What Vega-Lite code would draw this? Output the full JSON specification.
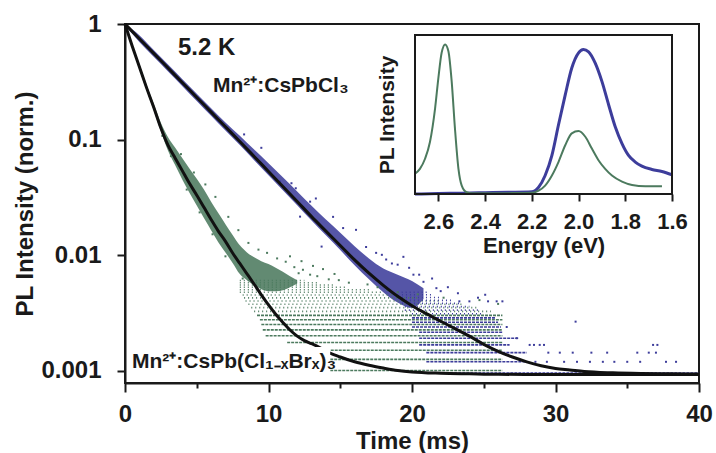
{
  "$schema": "https://vega.github.io/schema/vega-lite/v6.json",
  "width": 574,
  "height": 359,
  "autosize": {"type": "none"},
  "padding": {"left": 125, "top": 24, "right": 17, "bottom": 70},
  "background": "white",
  "config": {
    "view": {"stroke": "#1a1a1a", "strokeWidth": 2},
    "font": "Liberation Sans",
    "axis": {
      "labelFont": "Liberation Sans", "titleFont": "Liberation Sans",
      "labelFontWeight": "bold", "titleFontWeight": "bold",
      "labelColor": "#1a1a1a", "titleColor": "#1a1a1a",
      "domainColor": "#1a1a1a", "tickColor": "#1a1a1a",
      "domainWidth": 2, "tickWidth": 2, "grid": false,
      "labelFontSize": 24, "titleFontSize": 24
    }
  },
  "datasets": {
    "band": [
      {"s": "blue", "t": 0, "lo": 0.97, "hi": 1.0},
      {"s": "blue", "t": 1, "lo": 0.70, "hi": 0.80},
      {"s": "blue", "t": 2, "lo": 0.52, "hi": 0.597},
      {"s": "blue", "t": 3, "lo": 0.388, "hi": 0.446},
      {"s": "blue", "t": 4, "lo": 0.29, "hi": 0.333},
      {"s": "blue", "t": 5, "lo": 0.216, "hi": 0.25},
      {"s": "blue", "t": 6, "lo": 0.161, "hi": 0.187},
      {"s": "blue", "t": 7, "lo": 0.12, "hi": 0.141},
      {"s": "blue", "t": 8, "lo": 0.09, "hi": 0.108},
      {"s": "blue", "t": 9, "lo": 0.0665, "hi": 0.082},
      {"s": "blue", "t": 10, "lo": 0.0493, "hi": 0.0625},
      {"s": "blue", "t": 11, "lo": 0.0366, "hi": 0.0473},
      {"s": "blue", "t": 12, "lo": 0.0271, "hi": 0.0357},
      {"s": "blue", "t": 13, "lo": 0.02, "hi": 0.0268},
      {"s": "blue", "t": 14, "lo": 0.0149, "hi": 0.0204},
      {"s": "blue", "t": 15, "lo": 0.0111, "hi": 0.0157},
      {"s": "blue", "t": 16, "lo": 0.0082, "hi": 0.012},
      {"s": "blue", "t": 17, "lo": 0.0062, "hi": 0.0094},
      {"s": "blue", "t": 18, "lo": 0.0048, "hi": 0.0077},
      {"s": "blue", "t": 19, "lo": 0.0039, "hi": 0.0068},
      {"s": "blue", "t": 20, "lo": 0.0035, "hi": 0.006},
      {"s": "blue", "t": 20.8, "lo": 0.0042, "hi": 0.0052},
      {"s": "green", "t": 0, "lo": 0.96, "hi": 1.0},
      {"s": "green", "t": 0.5, "lo": 0.62, "hi": 0.67},
      {"s": "green", "t": 1, "lo": 0.405, "hi": 0.45},
      {"s": "green", "t": 1.5, "lo": 0.268, "hi": 0.3},
      {"s": "green", "t": 2, "lo": 0.18, "hi": 0.205},
      {"s": "green", "t": 2.5, "lo": 0.118, "hi": 0.14},
      {"s": "green", "t": 3, "lo": 0.08, "hi": 0.105},
      {"s": "green", "t": 3.5, "lo": 0.06, "hi": 0.085},
      {"s": "green", "t": 4, "lo": 0.045, "hi": 0.069},
      {"s": "green", "t": 4.5, "lo": 0.0345, "hi": 0.056},
      {"s": "green", "t": 5, "lo": 0.027, "hi": 0.046},
      {"s": "green", "t": 5.5, "lo": 0.021, "hi": 0.037},
      {"s": "green", "t": 6, "lo": 0.0165, "hi": 0.029},
      {"s": "green", "t": 6.5, "lo": 0.013, "hi": 0.0232},
      {"s": "green", "t": 7, "lo": 0.0106, "hi": 0.0186},
      {"s": "green", "t": 7.5, "lo": 0.0086, "hi": 0.015},
      {"s": "green", "t": 8, "lo": 0.0069, "hi": 0.0122},
      {"s": "green", "t": 8.5, "lo": 0.0061, "hi": 0.0106},
      {"s": "green", "t": 9, "lo": 0.0055, "hi": 0.0096},
      {"s": "green", "t": 9.5, "lo": 0.0051, "hi": 0.0089},
      {"s": "green", "t": 10, "lo": 0.0049, "hi": 0.0084},
      {"s": "green", "t": 10.5, "lo": 0.0049, "hi": 0.0078},
      {"s": "green", "t": 11, "lo": 0.005, "hi": 0.0072},
      {"s": "green", "t": 11.5, "lo": 0.0053, "hi": 0.0066},
      {"s": "green", "t": 12, "lo": 0.0057, "hi": 0.0061}
    ],
    "streak": [
      {"s": "green", "v": 0.001008, "t0": 14.3, "t1": 26.3, "d": "hi"},
      {"s": "green", "v": 0.00126, "t0": 14.3, "t1": 26.3, "d": "hi"},
      {"s": "green", "v": 0.001512, "t0": 13.5, "t1": 26.3, "d": "hi"},
      {"s": "green", "v": 0.001764, "t0": 11.3, "t1": 26.3, "d": "hi"},
      {"s": "green", "v": 0.002016, "t0": 9.8, "t1": 26.3, "d": "hi"},
      {"s": "green", "v": 0.002268, "t0": 9.6, "t1": 26.3, "d": "hi"},
      {"s": "green", "v": 0.00252, "t0": 9.5, "t1": 26.3, "d": "hi"},
      {"s": "green", "v": 0.002772, "t0": 9.4, "t1": 26.3, "d": "hi"},
      {"s": "green", "v": 0.003024, "t0": 9.2, "t1": 26.3, "d": "hi"},
      {"s": "green", "v": 0.003276, "t0": 9.0, "t1": 25.5, "d": "lo"},
      {"s": "green", "v": 0.003528, "t0": 8.8, "t1": 24.5, "d": "lo"},
      {"s": "green", "v": 0.00378, "t0": 8.6, "t1": 23.5, "d": "lo"},
      {"s": "green", "v": 0.004032, "t0": 8.4, "t1": 22, "d": "lo"},
      {"s": "green", "v": 0.004284, "t0": 8.3, "t1": 20.5, "d": "lo"},
      {"s": "green", "v": 0.004536, "t0": 8.2, "t1": 19, "d": "lo"},
      {"s": "green", "v": 0.004788, "t0": 8.0, "t1": 18, "d": "lo"},
      {"s": "green", "v": 0.00504, "t0": 8.0, "t1": 17, "d": "lo"},
      {"s": "green", "v": 0.005292, "t0": 8.0, "t1": 15.5, "d": "lo"},
      {"s": "green", "v": 0.005544, "t0": 8.0, "t1": 14.5, "d": "lo"},
      {"s": "green", "v": 0.005796, "t0": 8.0, "t1": 13.5, "d": "lo"},
      {"s": "green", "v": 0.006048, "t0": 8.0, "t1": 12.5, "d": "lo"},
      {"s": "blue", "v": 0.00096, "t0": 21, "t1": 40, "d": "hi"},
      {"s": "blue", "v": 0.0012, "t0": 21, "t1": 28, "d": "hi"},
      {"s": "blue", "v": 0.00144, "t0": 21, "t1": 28, "d": "hi"},
      {"s": "blue", "v": 0.00168, "t0": 20.5, "t1": 26.8, "d": "hi"},
      {"s": "blue", "v": 0.00192, "t0": 20.5, "t1": 27.4, "d": "hi"},
      {"s": "blue", "v": 0.00216, "t0": 20.5, "t1": 26.3, "d": "hi"},
      {"s": "blue", "v": 0.0024, "t0": 20, "t1": 26.2, "d": "hi"},
      {"s": "blue", "v": 0.00264, "t0": 20, "t1": 26, "d": "hi"},
      {"s": "blue", "v": 0.00288, "t0": 20, "t1": 25.8, "d": "hi"},
      {"s": "blue", "v": 0.00312, "t0": 20, "t1": 25, "d": "lo"},
      {"s": "blue", "v": 0.00336, "t0": 19.5, "t1": 24.7, "d": "lo"},
      {"s": "blue", "v": 0.0036, "t0": 19.5, "t1": 24, "d": "lo"},
      {"s": "blue", "v": 0.00384, "t0": 19.3, "t1": 23.3, "d": "lo"},
      {"s": "blue", "v": 0.00408, "t0": 19.3, "t1": 22.8, "d": "lo"},
      {"s": "blue", "v": 0.00432, "t0": 19.3, "t1": 22, "d": "lo"},
      {"s": "blue", "v": 0.00456, "t0": 19.3, "t1": 21.5, "d": "lo"},
      {"s": "blue", "v": 0.0048, "t0": 19, "t1": 21.2, "d": "lo"}
    ],
    "pts": [
      {"s": "blue", "t": 8.3, "v": 0.111}, {"s": "blue", "t": 9.5, "v": 0.085},
      {"s": "blue", "t": 10.8, "v": 0.0434}, {"s": "blue", "t": 11.6, "v": 0.042},
      {"s": "blue", "t": 11.9, "v": 0.038}, {"s": "blue", "t": 12.2, "v": 0.0216},
      {"s": "blue", "t": 12.9, "v": 0.0291}, {"s": "blue", "t": 13.3, "v": 0.031},
      {"s": "blue", "t": 13.7, "v": 0.0119}, {"s": "blue", "t": 14.5, "v": 0.0215},
      {"s": "blue", "t": 15.2, "v": 0.0172}, {"s": "blue", "t": 16.1, "v": 0.0166},
      {"s": "blue", "t": 16.8, "v": 0.0118}, {"s": "blue", "t": 17.5, "v": 0.0105},
      {"s": "blue", "t": 17.9, "v": 0.0101}, {"s": "blue", "t": 18.2, "v": 0.0092},
      {"s": "blue", "t": 18.6, "v": 0.0085}, {"s": "blue", "t": 19.0, "v": 0.0083},
      {"s": "blue", "t": 19.4, "v": 0.0097}, {"s": "blue", "t": 19.8, "v": 0.0078},
      {"s": "blue", "t": 20.1, "v": 0.0068}, {"s": "blue", "t": 20.5, "v": 0.0068},
      {"s": "blue", "t": 20.8, "v": 0.0059}, {"s": "blue", "t": 21.4, "v": 0.0063},
      {"s": "blue", "t": 21.7, "v": 0.0052}, {"s": "blue", "t": 22.0, "v": 0.0049},
      {"s": "blue", "t": 22.5, "v": 0.0053}, {"s": "blue", "t": 23.2, "v": 0.0047},
      {"s": "blue", "t": 23.3, "v": 0.004}, {"s": "blue", "t": 24.0, "v": 0.004},
      {"s": "blue", "t": 24.6, "v": 0.0043}, {"s": "blue", "t": 25.1, "v": 0.00456},
      {"s": "blue", "t": 25.3, "v": 0.004}, {"s": "blue", "t": 25.9, "v": 0.004},
      {"s": "blue", "t": 26.3, "v": 0.004}, {"s": "blue", "t": 26.6, "v": 0.0024},
      {"s": "blue", "t": 27.3, "v": 0.00192}, {"s": "blue", "t": 28.2, "v": 0.00168},
      {"s": "blue", "t": 28.5, "v": 0.00168}, {"s": "blue", "t": 28.9, "v": 0.00168},
      {"s": "blue", "t": 29.2, "v": 0.00168}, {"s": "blue", "t": 31.4, "v": 0.00267},
      {"s": "blue", "t": 36.8, "v": 0.00168}, {"s": "blue", "t": 37.1, "v": 0.00168},
      {"s": "blue", "t": 29.5, "v": 0.00144}, {"s": "blue", "t": 30.3, "v": 0.00144},
      {"s": "blue", "t": 31.2, "v": 0.00144}, {"s": "blue", "t": 32.5, "v": 0.00144},
      {"s": "blue", "t": 33.6, "v": 0.00144}, {"s": "blue", "t": 35.7, "v": 0.00144},
      {"s": "blue", "t": 36.5, "v": 0.00144}, {"s": "blue", "t": 37.0, "v": 0.00144},
      {"s": "blue", "t": 28.6, "v": 0.0012}, {"s": "blue", "t": 29.4, "v": 0.0012},
      {"s": "blue", "t": 30.6, "v": 0.0012}, {"s": "blue", "t": 31.5, "v": 0.0012},
      {"s": "blue", "t": 32.4, "v": 0.0012}, {"s": "blue", "t": 33.3, "v": 0.0012},
      {"s": "blue", "t": 34.1, "v": 0.0012}, {"s": "blue", "t": 35.0, "v": 0.0012},
      {"s": "blue", "t": 35.9, "v": 0.0012}, {"s": "blue", "t": 37.7, "v": 0.0012},
      {"s": "blue", "t": 38.4, "v": 0.0012},
      {"s": "green", "t": 2.6, "v": 0.108}, {"s": "green", "t": 3.2, "v": 0.072},
      {"s": "green", "t": 3.9, "v": 0.075}, {"s": "green", "t": 4.3, "v": 0.037},
      {"s": "green", "t": 4.8, "v": 0.052}, {"s": "green", "t": 5.2, "v": 0.0235},
      {"s": "green", "t": 5.6, "v": 0.041}, {"s": "green", "t": 6.1, "v": 0.0152},
      {"s": "green", "t": 6.3, "v": 0.032}, {"s": "green", "t": 7.0, "v": 0.0098},
      {"s": "green", "t": 7.2, "v": 0.0215}, {"s": "green", "t": 7.9, "v": 0.0165},
      {"s": "green", "t": 8.2, "v": 0.0063}, {"s": "green", "t": 8.6, "v": 0.0128},
      {"s": "green", "t": 9.3, "v": 0.0112}, {"s": "green", "t": 9.9, "v": 0.0105},
      {"s": "green", "t": 10.6, "v": 0.0094}, {"s": "green", "t": 11.2, "v": 0.0088},
      {"s": "green", "t": 11.5, "v": 0.0098}, {"s": "green", "t": 11.8, "v": 0.0079},
      {"s": "green", "t": 12.1, "v": 0.007}, {"s": "green", "t": 12.3, "v": 0.0089},
      {"s": "green", "t": 12.4, "v": 0.0075}, {"s": "green", "t": 12.9, "v": 0.0068},
      {"s": "green", "t": 13.1, "v": 0.0081}, {"s": "green", "t": 13.4, "v": 0.0066},
      {"s": "green", "t": 13.8, "v": 0.0076}, {"s": "green", "t": 14.2, "v": 0.0062},
      {"s": "green", "t": 14.6, "v": 0.0069}, {"s": "green", "t": 14.9, "v": 0.0061},
      {"s": "green", "t": 15.6, "v": 0.0058}, {"s": "green", "t": 16.9, "v": 0.0056},
      {"s": "green", "t": 17.6, "v": 0.0053}, {"s": "green", "t": 18.3, "v": 0.005},
      {"s": "green", "t": 19.0, "v": 0.0048}, {"s": "green", "t": 20.4, "v": 0.0046},
      {"s": "green", "t": 22.2, "v": 0.0043}, {"s": "green", "t": 24.7, "v": 0.0041},
      {"s": "green", "t": 26.0, "v": 0.0038}
    ],
    "fit": [
      {"s": "blue", "t": 0, "v": 1}, {"s": "blue", "t": 1, "v": 0.7464},
      {"s": "blue", "t": 2, "v": 0.5572}, {"s": "blue", "t": 3, "v": 0.4159},
      {"s": "blue", "t": 4, "v": 0.3105}, {"s": "blue", "t": 5, "v": 0.2317},
      {"s": "blue", "t": 6, "v": 0.173}, {"s": "blue", "t": 7, "v": 0.1291},
      {"s": "blue", "t": 8, "v": 0.0964}, {"s": "blue", "t": 9, "v": 0.0716},
      {"s": "blue", "t": 10, "v": 0.0531}, {"s": "blue", "t": 11, "v": 0.0394},
      {"s": "blue", "t": 12, "v": 0.0292}, {"s": "blue", "t": 13, "v": 0.0216},
      {"s": "blue", "t": 14, "v": 0.0162}, {"s": "blue", "t": 15, "v": 0.01216},
      {"s": "blue", "t": 16, "v": 0.00912}, {"s": "blue", "t": 17, "v": 0.007},
      {"s": "blue", "t": 18, "v": 0.0055}, {"s": "blue", "t": 19, "v": 0.00442},
      {"s": "blue", "t": 20, "v": 0.00367}, {"s": "blue", "t": 21, "v": 0.00313},
      {"s": "blue", "t": 22, "v": 0.00269}, {"s": "blue", "t": 23, "v": 0.00232},
      {"s": "blue", "t": 24, "v": 0.002}, {"s": "blue", "t": 25, "v": 0.0017},
      {"s": "blue", "t": 26, "v": 0.00148}, {"s": "blue", "t": 27, "v": 0.00132},
      {"s": "blue", "t": 28, "v": 0.0012}, {"s": "blue", "t": 29, "v": 0.00111},
      {"s": "blue", "t": 30, "v": 0.00105}, {"s": "blue", "t": 31, "v": 0.00102},
      {"s": "blue", "t": 32, "v": 0.00099}, {"s": "blue", "t": 34, "v": 0.000964},
      {"s": "blue", "t": 36, "v": 0.000951}, {"s": "blue", "t": 38, "v": 0.000944},
      {"s": "blue", "t": 40, "v": 0.00094},
      {"s": "green", "t": 0, "v": 1}, {"s": "green", "t": 0.5, "v": 0.6457},
      {"s": "green", "t": 1, "v": 0.4266}, {"s": "green", "t": 1.5, "v": 0.2818},
      {"s": "green", "t": 2, "v": 0.1905}, {"s": "green", "t": 2.5, "v": 0.1259},
      {"s": "green", "t": 3, "v": 0.0891}, {"s": "green", "t": 3.5, "v": 0.0692},
      {"s": "green", "t": 4, "v": 0.0537}, {"s": "green", "t": 4.5, "v": 0.0417},
      {"s": "green", "t": 5, "v": 0.0331}, {"s": "green", "t": 5.5, "v": 0.026},
      {"s": "green", "t": 6, "v": 0.0204}, {"s": "green", "t": 6.5, "v": 0.0162},
      {"s": "green", "t": 7, "v": 0.0132}, {"s": "green", "t": 7.5, "v": 0.01047},
      {"s": "green", "t": 8, "v": 0.00851}, {"s": "green", "t": 8.5, "v": 0.00692},
      {"s": "green", "t": 9, "v": 0.00562}, {"s": "green", "t": 9.5, "v": 0.00455},
      {"s": "green", "t": 10, "v": 0.00372}, {"s": "green", "t": 10.5, "v": 0.00309},
      {"s": "green", "t": 11, "v": 0.00263}, {"s": "green", "t": 11.5, "v": 0.00226},
      {"s": "green", "t": 12, "v": 0.002}, {"s": "green", "t": 12.5, "v": 0.00183},
      {"s": "green", "t": 13, "v": 0.00172}, {"s": "green", "t": 13.5, "v": 0.00161},
      {"s": "green", "t": 14, "v": 0.00148}, {"s": "green", "t": 15, "v": 0.00132},
      {"s": "green", "t": 16, "v": 0.0012}, {"s": "green", "t": 17, "v": 0.00112},
      {"s": "green", "t": 18, "v": 0.00106}, {"s": "green", "t": 19, "v": 0.00101},
      {"s": "green", "t": 20, "v": 0.00098}, {"s": "green", "t": 22, "v": 0.000955},
      {"s": "green", "t": 24, "v": 0.000944}, {"s": "green", "t": 26, "v": 0.000935},
      {"s": "green", "t": 30, "v": 0.000933}, {"s": "green", "t": 40, "v": 0.000933}
    ],
    "notes": [
      {"txt": "5.2 K", "t": 3.69, "v": 0.54, "fs": 24},
      {"txt": "Mn²⁺:CsPbCl₃", "t": 6.13, "v": 0.26, "fs": 21},
      {"txt": "Mn²⁺:CsPb(Cl₁₋ₓBrₓ)₃", "t": 0.49, "v": 0.001055, "fs": 21}
    ],
    "spec": [
      {"s": "blue", "e": 2.70, "v": 0.0}, {"s": "blue", "e": 2.60, "v": 0.003},
      {"s": "blue", "e": 2.50, "v": 0.006}, {"s": "blue", "e": 2.40, "v": 0.009},
      {"s": "blue", "e": 2.30, "v": 0.012}, {"s": "blue", "e": 2.20, "v": 0.016},
      {"s": "blue", "e": 2.171, "v": 0.047}, {"s": "blue", "e": 2.143, "v": 0.128},
      {"s": "blue", "e": 2.114, "v": 0.267}, {"s": "blue", "e": 2.086, "v": 0.477},
      {"s": "blue", "e": 2.057, "v": 0.686}, {"s": "blue", "e": 2.029, "v": 0.872},
      {"s": "blue", "e": 2.0, "v": 0.977}, {"s": "blue", "e": 1.979, "v": 1.0},
      {"s": "blue", "e": 1.957, "v": 0.984}, {"s": "blue", "e": 1.929, "v": 0.907},
      {"s": "blue", "e": 1.9, "v": 0.779}, {"s": "blue", "e": 1.871, "v": 0.616},
      {"s": "blue", "e": 1.843, "v": 0.465}, {"s": "blue", "e": 1.814, "v": 0.349},
      {"s": "blue", "e": 1.786, "v": 0.267}, {"s": "blue", "e": 1.757, "v": 0.221},
      {"s": "blue", "e": 1.729, "v": 0.193}, {"s": "blue", "e": 1.686, "v": 0.17},
      {"s": "blue", "e": 1.643, "v": 0.156}, {"s": "blue", "e": 1.6, "v": 0.133},
      {"s": "green", "e": 2.70, "v": 0.14}, {"s": "green", "e": 2.679, "v": 0.174},
      {"s": "green", "e": 2.657, "v": 0.244}, {"s": "green", "e": 2.636, "v": 0.36},
      {"s": "green", "e": 2.614, "v": 0.593}, {"s": "green", "e": 2.6, "v": 0.802},
      {"s": "green", "e": 2.586, "v": 0.977}, {"s": "green", "e": 2.571, "v": 1.035},
      {"s": "green", "e": 2.557, "v": 0.988}, {"s": "green", "e": 2.543, "v": 0.779},
      {"s": "green", "e": 2.529, "v": 0.454}, {"s": "green", "e": 2.514, "v": 0.174},
      {"s": "green", "e": 2.5, "v": 0.058}, {"s": "green", "e": 2.479, "v": 0.012},
      {"s": "green", "e": 2.457, "v": 0.005}, {"s": "green", "e": 2.3, "v": 0.006},
      {"s": "green", "e": 2.2, "v": 0.008}, {"s": "green", "e": 2.171, "v": 0.023},
      {"s": "green", "e": 2.143, "v": 0.058}, {"s": "green", "e": 2.114, "v": 0.128},
      {"s": "green", "e": 2.086, "v": 0.221}, {"s": "green", "e": 2.057, "v": 0.337},
      {"s": "green", "e": 2.029, "v": 0.419}, {"s": "green", "e": 2.0, "v": 0.435},
      {"s": "green", "e": 1.971, "v": 0.396}, {"s": "green", "e": 1.943, "v": 0.314},
      {"s": "green", "e": 1.914, "v": 0.232}, {"s": "green", "e": 1.886, "v": 0.174},
      {"s": "green", "e": 1.857, "v": 0.128}, {"s": "green", "e": 1.814, "v": 0.086},
      {"s": "green", "e": 1.771, "v": 0.063}, {"s": "green", "e": 1.714, "v": 0.054},
      {"s": "green", "e": 1.643, "v": 0.054}
    ]
  },
  "layer": [
    {
      "layer": [
        {
          "data": {"name": "band"},
          "mark": {"type": "area", "interpolate": "monotone", "opacity": 0.88},
          "encoding": {
            "x": {"field": "t", "type": "quantitative",
              "scale": {"domain": [0, 40], "nice": false, "zero": false},
              "axis": {"values": [0, 5, 10, 15, 20, 25, 30, 35, 40],
                "labelExpr": "datum.value % 10 === 0 ? datum.label : ''",
                "title": "Time (ms)",
                "tickSize": {"condition": {"test": "datum.value % 10 === 0", "value": 9}, "value": 5},
                "labelPadding": 10, "titlePadding": 3, "labelFlush": false, "labelOverlap": false}},
            "y": {"field": "lo", "type": "quantitative", "stack": null,
              "scale": {"type": "log", "domain": [0.000787, 1], "nice": false},
              "axis": {"values": [0.001, 0.01, 0.1, 1], "format": "~g",
                "title": "PL Intensity (norm.)", "tickSize": 8, "labelPadding": 16,
                "titlePadding": 3, "labelOverlap": false, "labelFlush": false}},
            "y2": {"field": "hi"},
            "color": {"field": "s", "type": "nominal",
              "scale": {"domain": ["blue", "green"], "range": ["#3d3d9b", "#4c7a5e"]}, "legend": null}
          }
        },
        {
          "data": {"name": "streak"},
          "mark": {"type": "rule", "strokeWidth": 1.6},
          "encoding": {
            "x": {"field": "t0", "type": "quantitative"},
            "x2": {"field": "t1"},
            "y": {"field": "v", "type": "quantitative"},
            "color": {"field": "s", "type": "nominal", "legend": null},
            "strokeDash": {"field": "d", "type": "nominal",
              "scale": {"domain": ["hi", "lo"], "range": [[3, 1], [1, 3]]}, "legend": null}
          }
        },
        {
          "data": {"name": "pts"},
          "mark": {"type": "square", "size": 4, "opacity": 1},
          "encoding": {
            "x": {"field": "t", "type": "quantitative"},
            "y": {"field": "v", "type": "quantitative"},
            "color": {"field": "s", "type": "nominal", "legend": null}
          }
        },
        {
          "data": {"name": "fit"},
          "mark": {"type": "line", "color": "#111111", "strokeWidth": 3, "interpolate": "monotone"},
          "encoding": {
            "x": {"field": "t", "type": "quantitative"},
            "y": {"field": "v", "type": "quantitative"},
            "detail": {"field": "s", "type": "nominal"}
          }
        },
        {
          "data": {"values": [{}]},
          "mark": {"type": "rect", "color": "white"},
          "encoding": {
            "x": {"datum": 0.3, "type": "quantitative"},
            "x2": {"datum": 14.3},
            "y": {"datum": 0.00088, "type": "quantitative"},
            "y2": {"datum": 0.00161}
          }
        },
        {
          "data": {"name": "notes"},
          "mark": {"type": "text", "align": "left", "baseline": "alphabetic",
            "font": "Liberation Sans", "fontWeight": "bold", "color": "#1a1a1a"},
          "encoding": {
            "x": {"field": "t", "type": "quantitative"},
            "y": {"field": "v", "type": "quantitative"},
            "text": {"field": "txt"},
            "size": {"field": "fs", "type": "quantitative", "scale": null}
          }
        }
      ]
    },
    {
      "layer": [
        {
          "data": {"name": "spec"},
          "mark": {"type": "line", "interpolate": "monotone"},
          "encoding": {
            "x": {"field": "e", "type": "quantitative",
              "scale": {"domain": [2.7, 1.6], "range": [290, 547], "nice": false, "zero": false},
              "axis": {"orient": "bottom", "offset": -189,
                "values": [2.6, 2.4, 2.2, 2.0, 1.8, 1.6], "format": ".1f",
                "title": "Energy (eV)", "domain": false, "tickSize": 7,
                "labelPadding": 10, "titlePadding": 3, "labelFontSize": 22,
                "titleFontSize": 22, "labelFlush": false, "labelOverlap": false}},
            "y": {"field": "v", "type": "quantitative",
              "scale": {"domain": [0, 1.1], "range": [170, 11], "nice": false, "zero": false},
              "axis": {"orient": "left", "offset": -290, "labels": false, "ticks": false,
                "domain": false, "title": "PL Intensity", "titleFontSize": 21, "titlePadding": 18}},
            "color": {"field": "s", "type": "nominal", "legend": null},
            "strokeWidth": {"field": "s", "type": "nominal",
              "scale": {"domain": ["blue", "green"], "range": [3, 2]}, "legend": null}
          }
        },
        {
          "data": {"values": [{}]},
          "mark": {"type": "rect", "fill": null, "stroke": "#1a1a1a", "strokeWidth": 2},
          "encoding": {
            "x": {"datum": 2.7, "type": "quantitative"},
            "x2": {"datum": 1.6},
            "y": {"datum": 0, "type": "quantitative"},
            "y2": {"datum": 1.1}
          }
        }
      ]
    }
  ],
  "resolve": {"scale": {"x": "independent", "y": "independent"}}
}
